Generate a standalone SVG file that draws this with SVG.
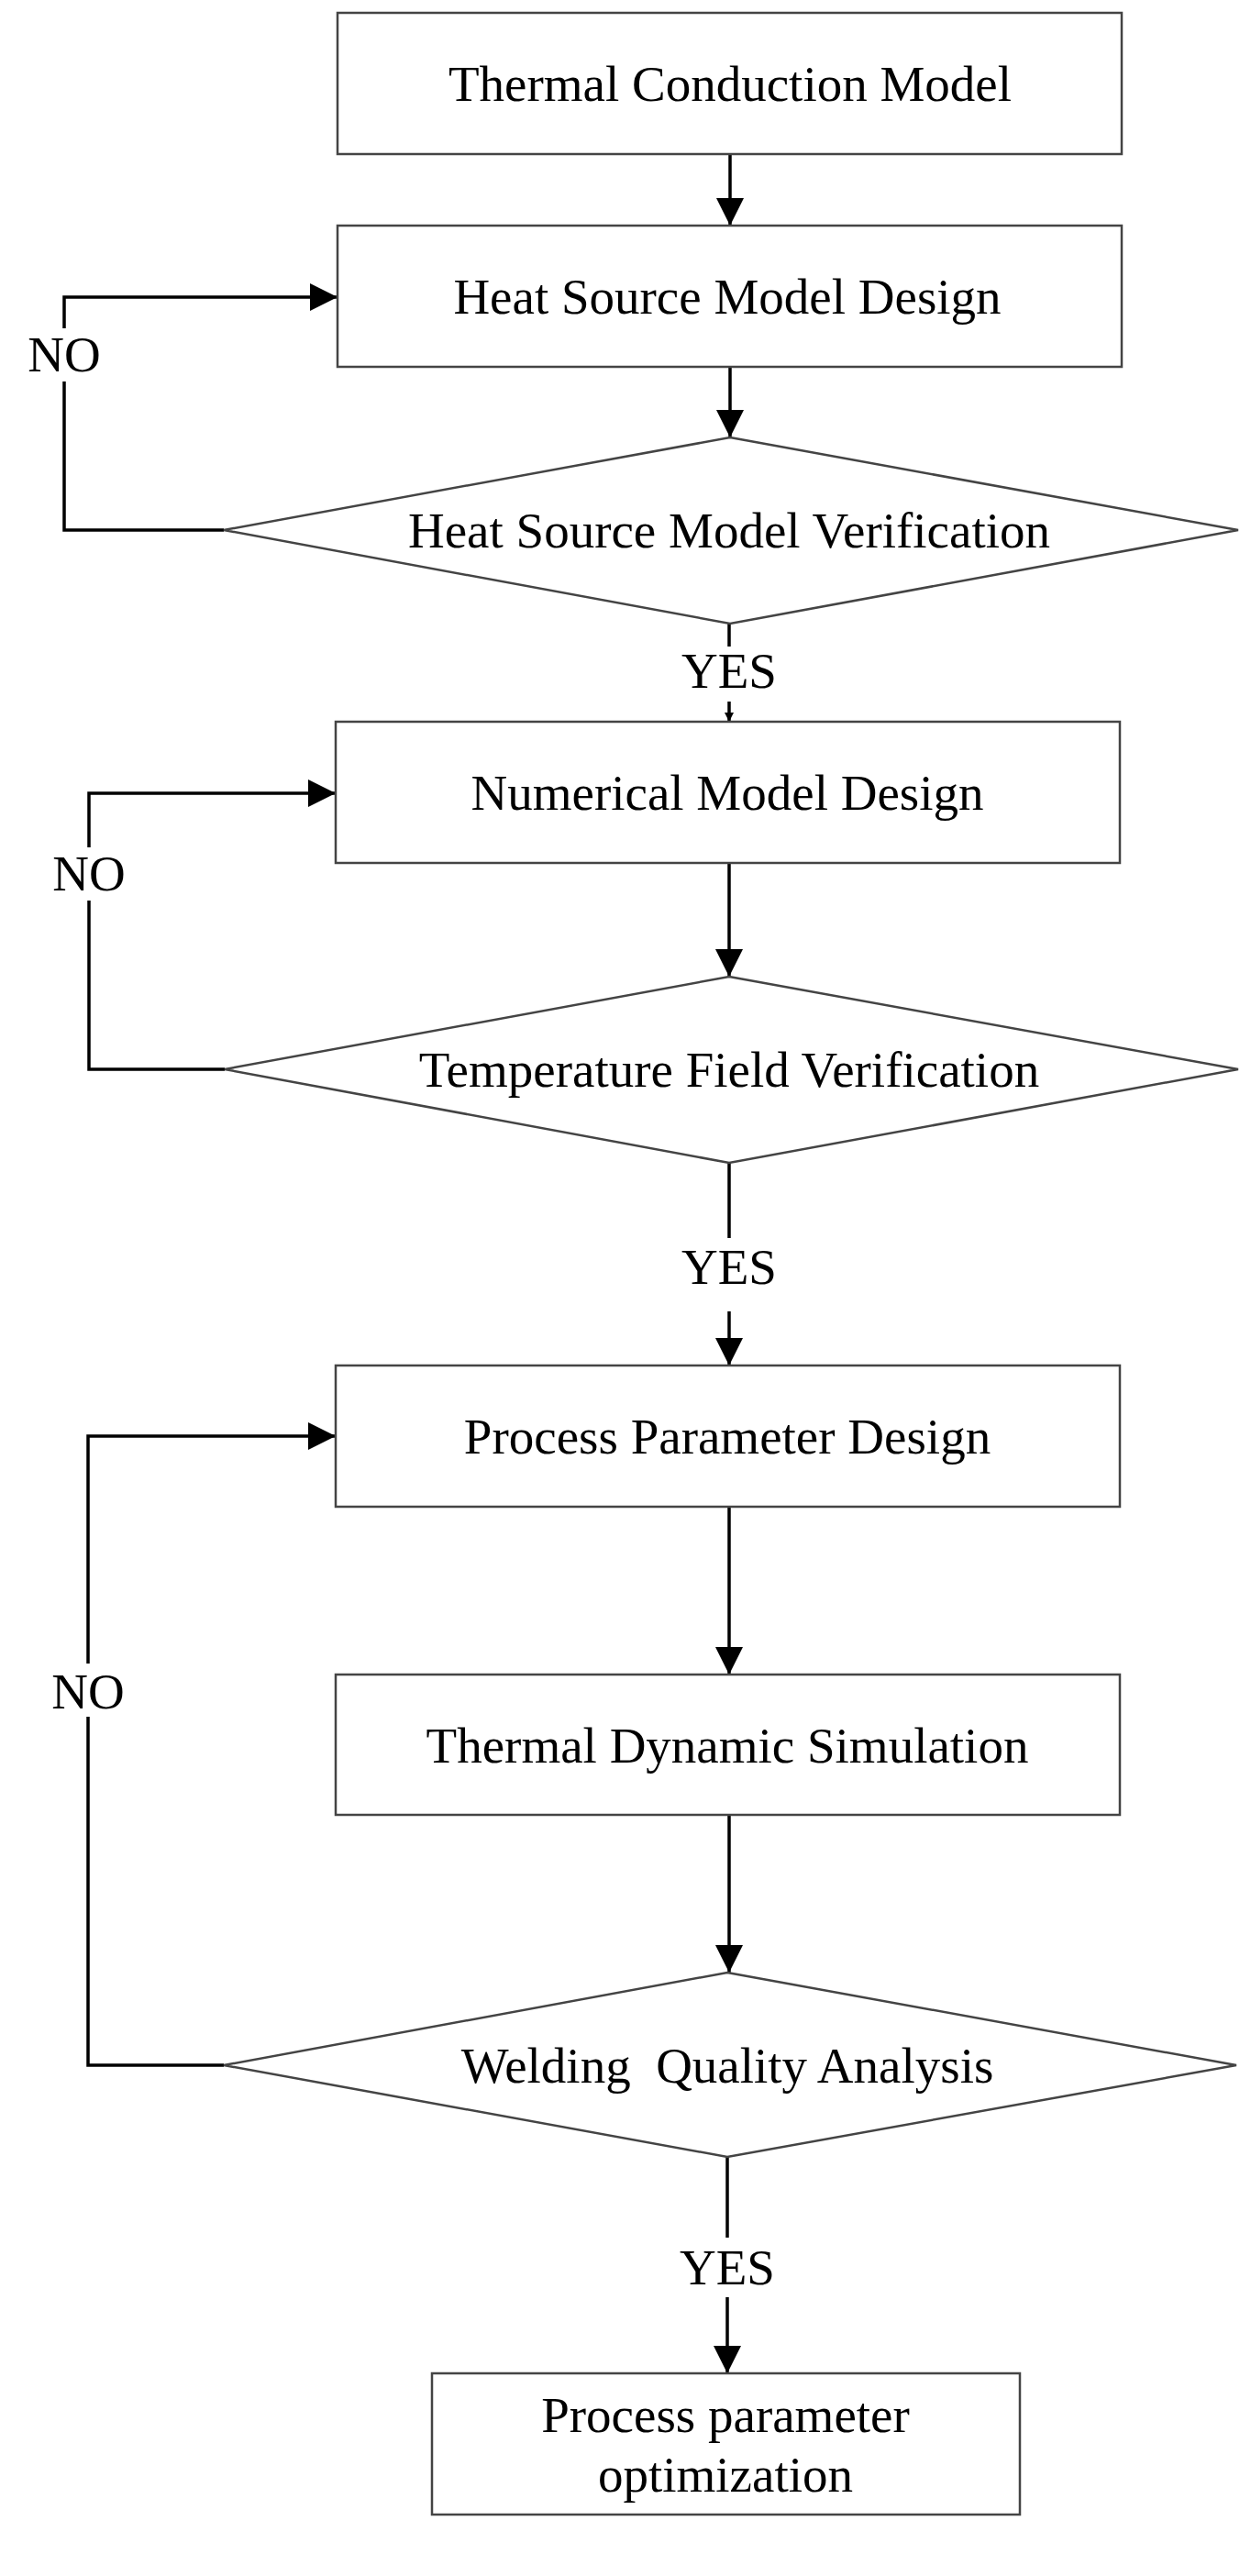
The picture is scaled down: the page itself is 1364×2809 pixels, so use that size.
<svg xmlns="http://www.w3.org/2000/svg" width="1364" height="2809" viewBox="0 0 1364 2809">
<style>
.n{fill:#fff;stroke:#444;stroke-width:2.5}
.t{font-family:"Liberation Serif",serif;font-size:55px;fill:#000;text-anchor:middle}
.c{fill:none;stroke:#000;stroke-width:3.5}
</style>
<defs><marker id="a" viewBox="0 0 10 10" refX="10" refY="5" markerWidth="10" markerHeight="10" markerUnits="userSpaceOnUse" orient="auto"><path d="M0,0L10,5L0,10z" fill="#000"/></marker>
<marker id="b" viewBox="0 0 10 10" refX="10" refY="5" markerWidth="30" markerHeight="30" markerUnits="userSpaceOnUse" orient="auto"><path d="M0,0L10,5L0,10z" fill="#000"/></marker></defs>
<rect width="1364" height="2809" fill="#fff"/>
<g id="connectors">
<path class="c" d="M796,168V246" marker-end="url(#b)"/>
<path class="c" d="M796,400V477" marker-end="url(#b)"/>
<path class="c" d="M244,578H70V324H368" marker-end="url(#b)"/>
<path class="c" d="M795,680V705"/>
<path class="c" d="M795,765V787" marker-end="url(#a)"/>
<path class="c" d="M795,941V1065" marker-end="url(#b)"/>
<path class="c" d="M245,1166H97V865H366" marker-end="url(#b)"/>
<path class="c" d="M795,1268V1350"/>
<path class="c" d="M795,1430V1489" marker-end="url(#b)"/>
<path class="c" d="M795,1643V1826" marker-end="url(#b)"/>
<path class="c" d="M795,1979V2151" marker-end="url(#b)"/>
<path class="c" d="M244,2252H96V1566H366" marker-end="url(#b)"/>
<path class="c" d="M793,2352V2440"/>
<path class="c" d="M793,2505V2588" marker-end="url(#b)"/>
<rect x="18" y="358" width="104" height="58" fill="#fff"/>
<rect x="45" y="924" width="104" height="58" fill="#fff"/>
<rect x="44" y="1814" width="104" height="58" fill="#fff"/>
<text class="t" x="70" y="405">NO</text>
<text class="t" x="97" y="971">NO</text>
<text class="t" x="96" y="1863">NO</text>
<text class="t" x="795" y="750">YES</text>
<text class="t" x="795" y="1400">YES</text>
<text class="t" x="793" y="2491">YES</text>
</g>
<g id="n1"><rect class="n" x="368" y="14" width="855" height="154"/><text class="t" x="796" y="110">Thermal Conduction Model</text></g>
<g id="n2"><rect class="n" x="368" y="246" width="855" height="154"/><text class="t" x="793" y="342">Heat Source Model Design</text></g>
<g id="n3"><polygon class="n" points="796,477 1350,578 796,680 244,578"/><text class="t" x="795" y="597">Heat Source Model Verification</text></g>
<g id="n4"><rect class="n" x="366" y="787" width="855" height="154"/><text class="t" x="793" y="883">Numerical Model Design</text></g>
<g id="n5"><polygon class="n" points="795,1065 1350,1166 795,1268 245,1166"/><text class="t" x="795" y="1185">Temperature Field Verification</text></g>
<g id="n6"><rect class="n" x="366" y="1489" width="855" height="154"/><text class="t" x="793" y="1585">Process Parameter Design</text></g>
<g id="n7"><rect class="n" x="366" y="1826" width="855" height="153"/><text class="t" x="793" y="1922">Thermal Dynamic Simulation</text></g>
<g id="n8"><polygon class="n" points="793,2151 1348,2252 793,2352 244,2252"/><text class="t" x="793" y="2271" xml:space="preserve">Welding  Quality Analysis</text></g>
<g id="n9"><rect class="n" x="471" y="2588" width="641" height="154"/><text class="t" x="791" y="2652">Process parameter</text><text class="t" x="791" y="2717">optimization</text></g>
</svg>
